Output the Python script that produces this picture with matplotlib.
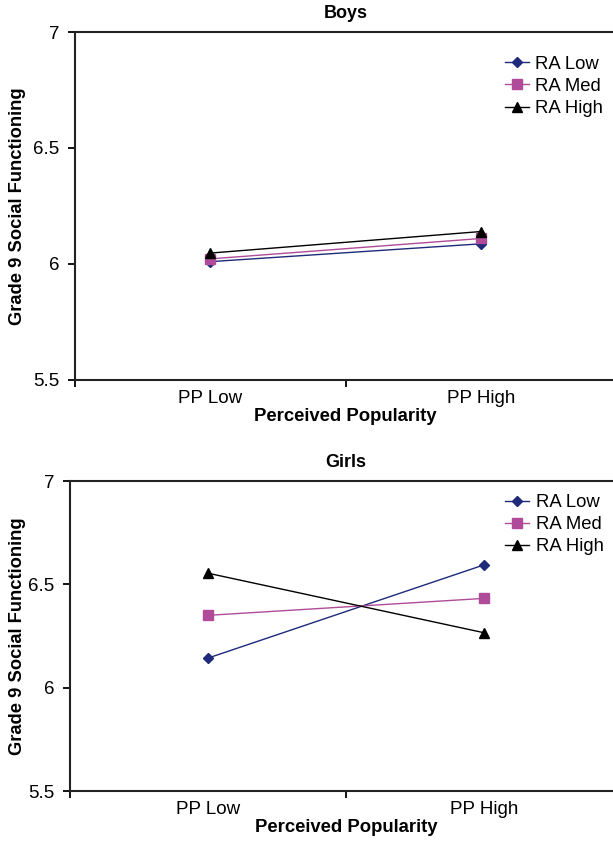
import numpy as np
import matplotlib.pyplot as plt

plt.rcParams['font.family'] = ['Liberation Sans', 'DejaVu Sans']

# data
groups = ['PP Low', 'PP High']
series = ['RA Low', 'RA Med', 'RA High']
boys_low = [6.01, 6.087]
boys_med = [6.022, 6.11]
boys_high = [6.047, 6.14]
girls_low = [6.143, 6.594]
girls_med = [6.35, 6.432]
girls_high = [6.554, 6.266]

colors = ['#1F2A7A', '#B04B9A', '#000000']
markers = ['D', 's', '^']
msizes = [5, 7, 7]


def draw_panel(ax, title, vals, leg_anchor):
    x = np.array([0.5, 1.5])
    for v, name, c, m, ms in zip(vals, series, colors, markers, msizes):
        ax.plot(x, v, color=c, marker=m, markersize=ms, lw=1.0, label=name)
    ax.set_xlim(0, 2)
    ax.set_ylim(5.5, 7)
    ax.set_yticks([5.5, 6, 6.5, 7])
    ax.set_yticklabels(['5.5', '6', '6.5', '7'], fontsize=13.5)
    ax.set_xticks([0, 1, 2])
    ax.set_xticklabels(['', '', ''])
    ax.set_xticks(x, minor=True)
    ax.set_xticklabels(groups, minor=True, fontsize=13.5)
    ax.tick_params(axis='x', which='minor', length=0, pad=7)
    ax.tick_params(axis='both', which='major', length=5, width=1.3, direction='out')
    ax.tick_params(axis='y', pad=6)
    ax.spines['right'].set_visible(False)
    for s in ['left', 'top', 'bottom']:
        ax.spines[s].set_linewidth(1.5)
        ax.spines[s].set_color('#222222')
    ax.set_title(title, fontsize=13, fontweight='bold', pad=10)
    ax.set_xlabel('Perceived Popularity', fontsize=13.3, fontweight='bold', labelpad=1)
    ax.set_ylabel('Grade 9 Social Functioning', fontsize=13.2, fontweight='bold',
                  va='center', ha='center')
    # place the y label at a fixed x in figure pixels (about 18 px from the left)
    bb = ax.get_position()
    ax.yaxis.set_label_coords((18 / 613 - bb.x0) / bb.width, 0.5)
    ax.legend(loc='upper right', bbox_to_anchor=leg_anchor, frameon=False, fontsize=13.3,
              handlelength=1.3, handletextpad=0.35, labelspacing=0.28, borderpad=0,
              borderaxespad=0)


fig = plt.figure(figsize=(6.13, 8.47), dpi=100)
ax1 = fig.add_axes([0.122, 0.5514, 0.884, 0.4108])
ax2 = fig.add_axes([0.114, 0.0661, 0.9005, 0.366])

draw_panel(ax1, 'Boys', [boys_low, boys_med, boys_high], (0.975, 0.932))
draw_panel(ax2, 'Girls', [girls_low, girls_med, girls_high], (0.967, 0.958))

fig.savefig('out.png', dpi=100)
